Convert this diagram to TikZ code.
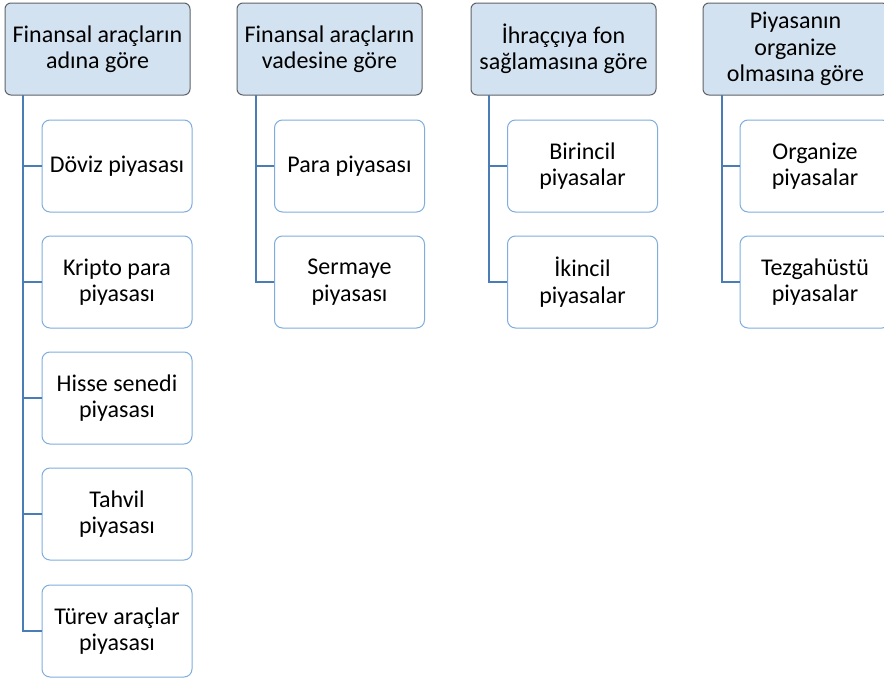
\documentclass[tikz,border=0pt]{standalone}
\usepackage{fontspec}
\setmainfont{Carlito}
\definecolor{hdrfill}{HTML}{D3E2F0}
\definecolor{hdrdraw}{HTML}{5F6368}
\definecolor{kidline}{HTML}{7FAEDD}
\definecolor{conn}{HTML}{4A7DB5}
\begin{document}
\begin{tikzpicture}[x=1pt,y=-1pt,
  hdr/.style={draw=hdrdraw,fill=hdrfill,line width=1pt,rounded corners=6pt,
    minimum width=185pt,minimum height=92pt,align=center,inner sep=1pt,
    font=\fontsize{24pt}{26.5pt}\selectfont},
  kid/.style={draw=kidline,fill=white,line width=1pt,rounded corners=8pt,
    minimum width=150pt,minimum height=92pt,align=center,inner sep=1pt,
    font=\fontsize{24pt}{26.5pt}\selectfont},
  link/.style={draw=conn,line width=2.8pt}]
\useasboundingbox (0,0) rectangle (884,680);
\fill[white] (0,0) rectangle (884,680);
% headers
\node[hdr] (h1) at (97.5,49) {Finansal araçların\\adına göre};
\node[hdr] (h2) at (329.5,49) {Finansal araçların\\vadesine göre};
\node[hdr] (h3) at (563.5,49) {İhraççıya fon\\sağlamasına göre};
\node[hdr] (h4) at (795.5,49) {Piyasanın\\organize\\olmasına göre};
% column 1
\node[kid] (a1) at (117,166) {Döviz piyasası};
\node[kid] (a2) at (117,282) {Kripto para\\piyasası};
\node[kid] (a3) at (117,398) {Hisse senedi\\piyasası};
\node[kid] (a4) at (117,514) {Tahvil\\piyasası};
\node[kid] (a5) at (117,631) {Türev araçlar\\piyasası};
% column 2
\node[kid] (b1) at (349.5,166) {Para piyasası};
\node[kid] (b2) at (349.5,282) {Sermaye\\piyasası};
% column 3
\node[kid] (c1) at (582.5,166) {Birincil\\piyasalar};
\node[kid] (c2) at (582.5,282) {İkincil\\piyasalar};
% column 4
\node[kid] (d1) at (815,166) {Organize\\piyasalar};
\node[kid] (d2) at (815,282) {Tezgahüstü\\piyasalar};
% connectors
\coordinate (s1) at (23,95);
\coordinate (s2) at (256,95);
\coordinate (s3) at (489,95);
\coordinate (s4) at (722,95);
\foreach \k in {a1,a2,a3,a4,a5} \draw[link] (s1) |- (\k.west);
\foreach \k in {b1,b2} \draw[link] (s2) |- (\k.west);
\foreach \k in {c1,c2} \draw[link] (s3) |- (\k.west);
\foreach \k in {d1,d2} \draw[link] (s4) |- (\k.west);
\end{tikzpicture}
\end{document}
